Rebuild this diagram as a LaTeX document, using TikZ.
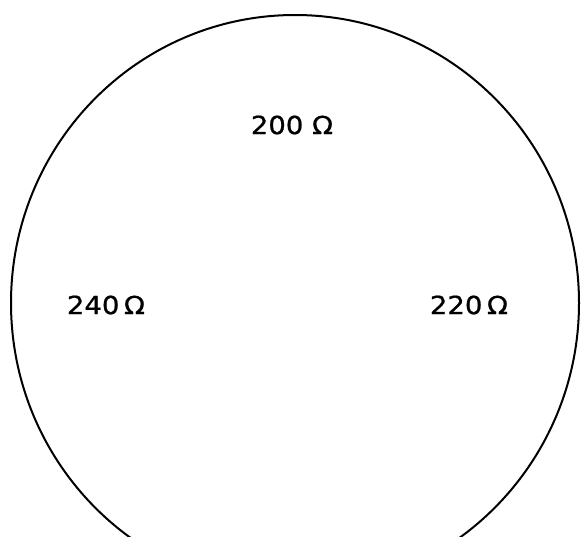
\documentclass[tikz,border=0pt]{standalone}
\usepackage{fontspec}
\setmainfont[FakeBold=0.8]{DejaVu Sans}
\usepackage{tikz}
\usetikzlibrary{calc, positioning}

\tikzset{
    rlabel/.style={font=\fontsize{25}{30}\selectfont, inner sep=1pt}
}
\newcommand{\wide}[1]{\scalebox{1.1}[1]{#1}}

\begin{document}
\begin{tikzpicture}[x=1pt, y=-1pt]

    % =================================================================
    % 1. THONG SO VA KHUNG HINH
    % =================================================================
    \def\rx{284}   % ban kinh ngang
    \def\ry{288}   % ban kinh doc

    \coordinate (O) at (295,303);   % tam hinh tron

    \useasboundingbox (0,0) rectangle (581,536);
    \clip (0,0) rectangle (581,536);

    % =================================================================
    % 2. DUONG TRON
    % =================================================================
    \draw[line width=2pt] (O) ellipse ({\rx} and {\ry});

    % =================================================================
    % 3. CAC DIEN TRO
    % =================================================================
    \node[rlabel] (rtop)   at (292,125) {\wide{200 Ω}};
    \node[rlabel] (rleft)  at (106,305) {\wide{240\,Ω}};
    \node[rlabel] (rright) at (469,305) {\wide{220\,Ω}};

\end{tikzpicture}
\end{document}
